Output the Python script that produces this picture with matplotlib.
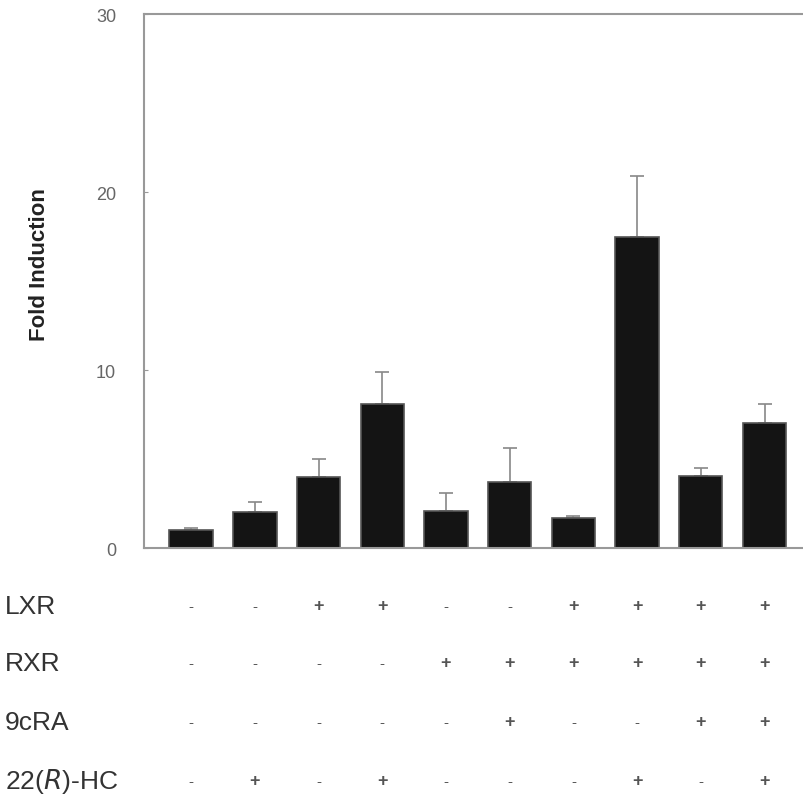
import numpy as np
import matplotlib.pyplot as plt
import matplotlib.transforms as mtransforms

plt.rcParams['font.family'] = ['Liberation Sans', 'DejaVu Sans']

# fold induction per condition and upper error (SD)
values = [1.0, 2.0, 4.0, 8.1, 2.1, 3.7, 1.7, 17.5, 4.05, 7.0]
errors = [0.15, 0.6, 1.0, 1.8, 1.0, 1.9, 0.1, 3.4, 0.45, 1.1]

row_names = ['LXR', 'RXR', '9cRA', '22($\\it{R}$)-HC']
LXR = ['-', '-', '+', '+', '-', '-', '+', '+', '+', '+']
RXR = ['-', '-', '-', '-', '+', '+', '+', '+', '+', '+']
cRA = ['-', '-', '-', '-', '-', '+', '-', '-', '+', '+']
HC = ['-', '+', '-', '+', '-', '-', '-', '+', '-', '+']
rows = [LXR, RXR, cRA, HC]

fig = plt.figure(figsize=(8.04, 8.03), dpi=100)
ax = fig.add_axes([144 / 804, (803 - 549) / 803, 1 - 144 / 804, (549 - 15) / 803])

x = np.arange(len(values))
ax.bar(x, values, width=0.68, color='#141414', edgecolor='#555555', linewidth=1.2, zorder=2)
ax.errorbar(x, values, yerr=[np.zeros(len(errors)), errors], fmt='none',
            ecolor='#888888', elinewidth=1.2, capsize=5, capthick=1.2, zorder=1)

ax.set_xlim(-0.74, 9.62)
ax.set_ylim(0, 30)
ax.set_yticks([0, 10, 20, 30])
ax.set_xticks([])
ax.tick_params(axis='y', direction='in', length=3, color='#999999',
               labelsize=13, labelcolor='#666666', pad=20)
for s in ['left', 'top', 'bottom']:
    ax.spines[s].set_linestyle((0, (1, 1)))
    ax.spines[s].set_color('#999999')
    ax.spines[s].set_linewidth(1.5)
ax.spines['right'].set_visible(False)

fig.text(40 / 804, 1 - 265 / 803, 'Fold Induction', rotation=90, ha='center', va='center',
         fontsize=16, fontweight='bold', color='#222222')

trans = mtransforms.blended_transform_factory(ax.transData, fig.transFigure)
row_y = [607, 664, 723, 782]
for name, signs, yy in zip(row_names, rows, row_y):
    fig.text(5 / 804, 1 - yy / 803, name, ha='left', va='center',
             fontsize=19, color='#333333')
    for i, sg in enumerate(signs):
        ax.text(i, 1 - yy / 803, sg, transform=trans, ha='center', va='center',
                fontsize=13 if sg == '+' else 11, color='#555555',
                fontweight='bold' if sg == '+' else 'normal')

fig.savefig('out.png', dpi=100)
